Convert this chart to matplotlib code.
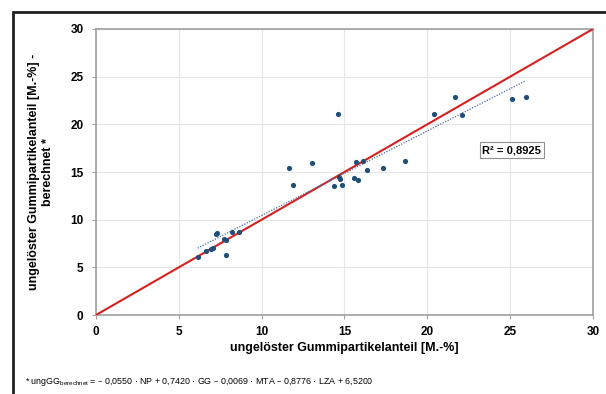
import numpy as np
import matplotlib
matplotlib.use("Agg")
import matplotlib.pyplot as plt
from matplotlib.patches import Rectangle

plt.rcParams['font.family'] = ['Liberation Sans', 'DejaVu Sans']

x_meas = [6.14, 6.64, 6.94, 7.04, 7.24, 7.28, 7.74, 7.85, 7.85, 8.19, 8.63,
          11.67, 11.87, 13.06, 14.60, 14.38, 14.64, 14.72, 14.85, 15.57, 15.79,
          15.67, 16.11, 16.35, 17.30, 18.65, 20.42, 21.70, 22.10, 25.13, 25.95]
y_calc = [6.10, 6.73, 6.91, 7.00, 8.48, 8.62, 7.92, 7.85, 6.25, 8.72, 8.72,
          15.39, 13.64, 15.92, 21.05, 13.50, 14.48, 14.24, 13.64, 14.42, 14.14,
          16.02, 16.13, 15.26, 15.39, 16.16, 21.05, 22.83, 20.94, 22.69, 22.83]
r2_text = "R² = 0,8925"
ticks = [0, 5, 10, 15, 20, 25, 30]
xlabel = "ungelöster Gummipartikelanteil [M.-%]"
ylabel = "ungelöster Gummipartikelanteil [M.-%] -\nberechnet *"

fig = plt.figure(figsize=(6.06, 3.94), dpi=100)
ax = fig.add_axes([0.1584, 0.2005, 0.8201, 0.7259])

ax.set_xlim(0, 30)
ax.set_ylim(0, 30)
ax.set_xticks(ticks)
ax.set_yticks(ticks)
ax.grid(True, color='#e6e6e6', linewidth=0.8)
ax.set_axisbelow(True)
for s in ax.spines.values():
    s.set_color('#a0a0a0')
    s.set_linewidth(1.2)
ax.tick_params(length=3, color='#a0a0a0', labelsize=8.5)
ax.tick_params(axis='y', pad=6)
ax.tick_params(axis='x', pad=5)
for lab in ax.get_xticklabels() + ax.get_yticklabels():
    lab.set_fontweight('bold')

# identity line
ax.plot([0, 30], [0, 30], color='#d62020', linewidth=1.5, zorder=3)

# regression trend line
xa = np.array(x_meas)
ya = np.array(y_calc)
k, d = np.polyfit(xa, ya, 1)
xs = np.array([xa.min(), xa.max()])
ax.plot(xs, k * xs + d, color='#4a6a9a', linewidth=0.9, linestyle=(0, (1, 1.2)), zorder=3)

ax.scatter(x_meas, y_calc, s=14, color='#1f4e79', zorder=4, linewidths=0)

ax.text(25.1, 17.3, r2_text, fontsize=8, fontweight='bold', ha='center', va='center',
        bbox=dict(boxstyle='square,pad=0.25', facecolor='white', edgecolor='#909090', linewidth=0.8),
        zorder=5)

ax.set_xlabel(xlabel, fontsize=9, fontweight='bold', labelpad=3)
ax.set_ylabel(ylabel, fontsize=9, fontweight='bold', labelpad=12, linespacing=1.15)

fig.text(25 / 606, 1 - 382 / 394,
         r"* ungGG$_{\mathregular{berechnet}}$ = – 0,0550 · NP + 0,7420 · GG – 0,0069 · MTA – 0,8776 · LZA + 6,5200",
         fontsize=6.4, ha='left', va='center')

fig.patches.append(Rectangle((13 / 606, -0.05), 1.1, 1 - 12 / 394 + 0.05, transform=fig.transFigure,
                             fill=False, edgecolor='#202020', linewidth=2, clip_on=False))

fig.savefig("out.png", dpi=100)
